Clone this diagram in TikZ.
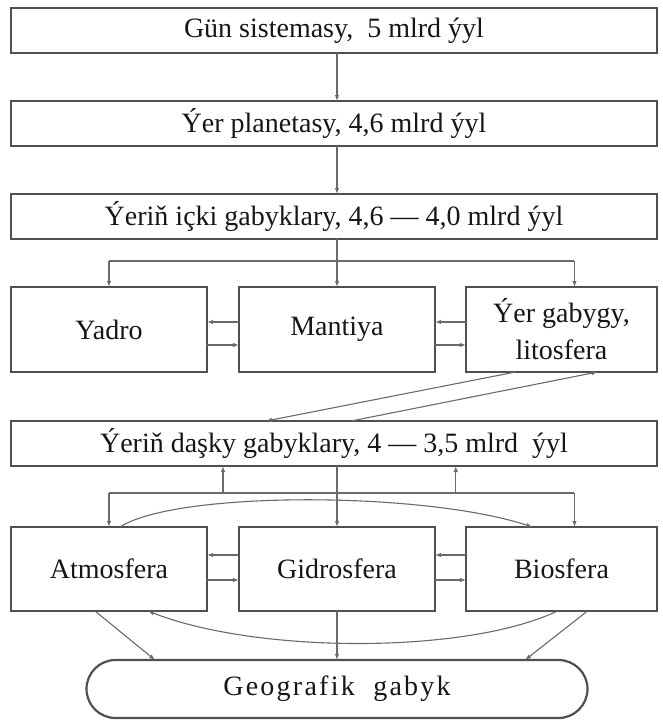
\documentclass[tikz,border=0pt]{standalone}
\usepackage{fontspec}
\setmainfont{Liberation Serif}
\usepackage{xcolor}
\usetikzlibrary{arrows.meta,positioning,calc}
\definecolor{framegray}{HTML}{505050}
\definecolor{linkgray}{HTML}{6A6A6A}
\definecolor{inkblack}{HTML}{161616}

\begin{document}
\begin{tikzpicture}[
  x=1pt, y=1pt,
  box/.style={draw=framegray, line width=2.2pt, outer sep=0pt, inner sep=2pt, align=center, text=inkblack, font=\fontsize{28}{33}\selectfont},
  wide/.style={box, minimum width=646pt, minimum height=45pt},
  cell/.style={box, minimum width=196pt, minimum height=85pt},
  arr/.style={-{Latex[length=6pt,width=4.5pt]}, line width=1.1pt, draw=linkgray},
  link/.style={line width=1.1pt, draw=linkgray}
]
\useasboundingbox (-334,30.5) rectangle (329,-690.5);
\node[wide] (sun) {Gün sistemasy,\ \ 5 mlrd ýyl};
\node[wide, below=48pt of sun] (earth) {Ýer planetasy, 4,6 mlrd ýyl};
\node[wide, below=48pt of earth] (inner) {Ýeriň içki gabyklary, 4,6 — 4,0 mlrd ýyl};
\node[cell, below=48pt of inner.south west, anchor=north west] (core) {Yadro};
\node[cell, right=32pt of core] (mantle) {Mantiya};
\node[cell, minimum width=191pt, right=31pt of mantle, font=\fontsize{28}{37}\selectfont] (crust) {Ýer gabygy,\\litosfera};
\node[wide, below=49pt of core.south west, anchor=north west] (outer) {Ýeriň daşky gabyklary, 4 — 3,5 mlrd\ \ ýyl};
\node[cell, minimum height=84pt, below=61pt of outer.south west, anchor=north west] (atmo) {Atmosfera};
\node[cell, minimum height=84pt, right=32pt of atmo] (hydro) {Gidrosfera};
\node[cell, minimum height=84pt, minimum width=191pt, right=31pt of hydro] (bio) {Biosfera};
\node[box, rounded corners=29pt, minimum width=501pt, minimum height=58pt, below=49pt of hydro,
  font=\fontsize{28}{33}\selectfont\addfontfeature{LetterSpace=8}] (geo) {Geografik\ \ gabyk};

\draw[arr] (sun.south -| mantle) -- (earth.north -| mantle);
\draw[arr] (earth.south -| mantle) -- (inner.north -| mantle);
\draw[arr] (inner.south -| mantle) -- (mantle.north);
\coordinate (fork) at ([yshift=-22pt]inner.south);
\coordinate (crustin) at ([xshift=13pt]crust.north);
\draw[link] (fork -| core) -- (fork -| crustin);
\draw[arr] (fork -| core) -- (core.north);
\draw[arr] (fork -| crustin) -- (crustin);

\draw[arr] ([yshift=7.5pt]mantle.west) -- ([yshift=7.5pt]mantle.west -| core.east);
\draw[arr] ([yshift=-15.5pt]core.east) -- ([yshift=-15.5pt]core.east -| mantle.west);
\draw[arr] ([yshift=7.5pt]crust.west) -- ([yshift=7.5pt]crust.west -| mantle.east);
\draw[arr] ([yshift=-15.5pt]mantle.east) -- ([yshift=-15.5pt]mantle.east -| crust.west);

\draw[arr] ([xshift=-46pt]crust.south) -- ([xshift=-68pt]outer.north);
\draw[arr] ([xshift=17pt]outer.north) -- ([xshift=36pt]crust.south);

\coordinate (join) at ([yshift=-27pt]outer.south);
\coordinate (bioin) at ([xshift=13pt]bio.north);
\coordinate (upl) at ($(atmo.north)!0.5!(hydro.north)$);
\coordinate (upr) at ($(hydro.north)!0.5!(bioin)$);
\draw[link] (join -| atmo) -- (join -| bioin);
\draw[arr] (join -| atmo) -- (atmo.north);
\draw[arr] (join -| bioin) -- (bioin);
\draw[arr] (outer.south -| hydro) -- (hydro.north);
\draw[arr] (join -| upl) -- (outer.south -| upl);
\draw[arr] (join -| upr) -- (outer.south -| upr);
\draw[arr] ([xshift=11pt]atmo.north) .. controls +(55,36) and +(-110,36) .. ([xshift=-29pt]bio.north);

\draw[arr] ([yshift=14pt]hydro.west) -- ([yshift=14pt]hydro.west -| atmo.east);
\draw[arr] ([yshift=-11pt]atmo.east) -- ([yshift=-11pt]atmo.east -| hydro.west);
\draw[arr] ([yshift=14pt]bio.west) -- ([yshift=14pt]bio.west -| hydro.east);
\draw[arr] ([yshift=-11pt]hydro.east) -- ([yshift=-11pt]hydro.east -| bio.west);

\draw[arr] ([xshift=-4pt]bio.south) .. controls +(-90,-43) and +(110,-43) .. ([xshift=39pt]atmo.south);
\draw[arr] ([xshift=-14pt]atmo.south) -- ([xshift=-182pt]geo.north);
\draw[arr] (hydro.south) -- (geo.north -| hydro);
\draw[arr] ([xshift=26pt]bio.south) -- ([xshift=188pt]geo.north);
\end{tikzpicture}
\end{document}
